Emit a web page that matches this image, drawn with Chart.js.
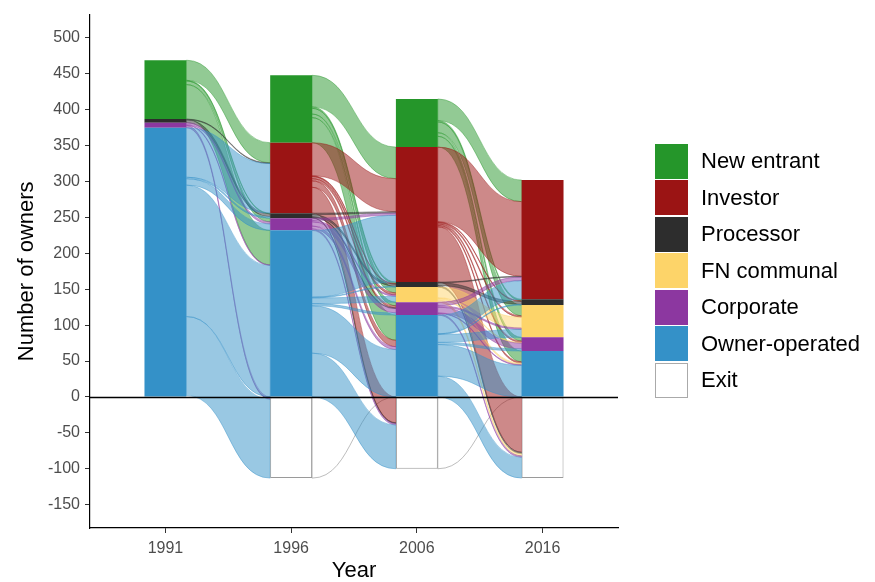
<!DOCTYPE html>
<html><head><meta charset="utf-8">
<script src="https://cdn.jsdelivr.net/npm/chart.js@4.4.1/dist/chart.umd.min.js"></script>
<style>
html,body{margin:0;padding:0;background:#fff;}
#wrap{position:relative;width:875px;height:582px;}
#legend{position:absolute;left:655px;top:143px;font-family:"Liberation Sans",Arial,sans-serif;font-size:22px;color:#000;}
.row{display:flex;align-items:center;height:36.5px;}
.key{width:33px;height:35px;box-sizing:border-box;margin-right:13px;}
</style></head><body>
<div id="wrap"><canvas id="c" width="875" height="582"></canvas><div id="legend"></div></div>
<script>
// ---------- data ----------
const years = ['1991', '1996', '2006', '2016'];
const categories = ['New entrant', 'Investor', 'Processor', 'FN communal', 'Corporate', 'Owner-operated', 'Exit'];
const newEntrant    = [82, 94, 67, 0];
const investor      = [0, 98, 188, 166];
const processor     = [5, 7, 7, 8];
const fnCommunal    = [0, 0, 21, 45];
const corporate     = [7, 17, 18, 19];
const ownerOperated = [375, 232, 114, 64];
const exitOwners    = [0, -113, -100, -113];
const yTicks = [-150, -100, -50, 0, 50, 100, 150, 200, 250, 300, 350, 400, 450, 500];

// flows: [from stratum, to stratum (null = none), owners]
const flows1991to1996 = [
  ['New entrant', 'Investor', 28], ['New entrant', 'Processor', 1], ['New entrant', 'Corporate', 5], ['New entrant', 'Owner-operated', 48],
  ['Processor', 'Investor', 1], ['Processor', 'Processor', 4],
  ['Corporate', 'Corporate', 3], ['Corporate', 'Owner-operated', 1], ['Corporate', 'Exit', 3],
  ['Owner-operated', 'Investor', 69], ['Owner-operated', 'Processor', 2], ['Owner-operated', 'Corporate', 9],
  ['Owner-operated', 'Owner-operated', 183], ['Owner-operated', 'Exit', 110]
];
const flows1996to2006 = [
  ['New entrant', 'Investor', 44], ['New entrant', 'Processor', 2], ['New entrant', 'FN communal', 8], ['New entrant', 'Corporate', 5], ['New entrant', 'Owner-operated', 35],
  ['Investor', 'Investor', 46], ['Investor', 'Processor', 1], ['Investor', 'FN communal', 3], ['Investor', 'Corporate', 3], ['Investor', 'Owner-operated', 9], ['Investor', 'Exit', 36],
  ['Processor', 'Investor', 2], ['Processor', 'Processor', 3], ['Processor', 'Corporate', 1], ['Processor', 'Exit', 1],
  ['Corporate', 'Investor', 3], ['Corporate', 'FN communal', 2], ['Corporate', 'Corporate', 6], ['Corporate', 'Owner-operated', 4], ['Corporate', 'Exit', 2],
  ['Owner-operated', 'Investor', 93], ['Owner-operated', 'Processor', 1], ['Owner-operated', 'FN communal', 8], ['Owner-operated', 'Corporate', 3],
  ['Owner-operated', 'Owner-operated', 66], ['Owner-operated', 'Exit', 61],
  ['Exit', null, 113]
];
const flows2006to2016 = [
  ['New entrant', 'Investor', 30], ['New entrant', 'Processor', 2], ['New entrant', 'FN communal', 15], ['New entrant', 'Corporate', 5], ['New entrant', 'Owner-operated', 15],
  ['Investor', 'Investor', 104], ['Investor', 'Processor', 1], ['Investor', 'FN communal', 2], ['Investor', 'Corporate', 2], ['Investor', 'Owner-operated', 2], ['Investor', 'Exit', 77],
  ['Processor', 'Investor', 1], ['Processor', 'Processor', 4], ['Processor', 'Exit', 2],
  ['FN communal', 'FN communal', 15], ['FN communal', 'Corporate', 1], ['FN communal', 'Owner-operated', 2], ['FN communal', 'Exit', 3],
  ['Corporate', 'Investor', 5], ['Corporate', 'FN communal', 2], ['Corporate', 'Corporate', 8], ['Corporate', 'Owner-operated', 1], ['Corporate', 'Exit', 2],
  ['Owner-operated', 'Investor', 26], ['Owner-operated', 'Processor', 1], ['Owner-operated', 'FN communal', 11], ['Owner-operated', 'Corporate', 3],
  ['Owner-operated', 'Owner-operated', 44], ['Owner-operated', 'Exit', 29],
  ['Exit', null, 100]
];

// ---------- styling ----------
const colors = {
  'New entrant': [37, 150, 42], 'Investor': [155, 20, 20], 'Processor': [45, 45, 45],
  'FN communal': [253, 212, 105], 'Corporate': [140, 55, 160], 'Owner-operated': [52, 145, 200], 'Exit': [255, 255, 255]
};
const rgb = (c, a) => `rgba(${c[0]},${c[1]},${c[2]},${a})`;
const strata = {
  'New entrant': newEntrant, 'Investor': investor, 'Processor': processor, 'FN communal': fnCommunal,
  'Corporate': corporate, 'Owner-operated': ownerOperated, 'Exit': exitOwners
};
const periods = [flows1991to1996, flows1996to2006, flows2006to2016];

// top (value units) of every stratum at a given year index
function strataTops(j) {
  const tops = {};
  let acc = 0;
  for (let k = categories.length - 2; k >= 0; k--) { acc += strata[categories[k]][j]; tops[categories[k]] = acc; }
  tops['Exit'] = 0;
  return tops;
}
const ord = c => c === null ? categories.length : categories.indexOf(c);

const alluvium = {
  id: 'alluvium',
  beforeDatasetsDraw(chart) {
    const ctx = chart.ctx, xs = chart.scales.x, ys = chart.scales.y, a = chart.chartArea;
    const hw = chart.getDatasetMeta(0).data[0].width / 2;
    ctx.save();
    ctx.beginPath(); ctx.rect(a.left, a.top, a.right - a.left, a.bottom - a.top); ctx.clip();
    periods.forEach((fl, p) => {
      const st = strataTops(p), dt = strataTops(p + 1);
      const sc = {}, dc = {};
      const srcSorted = fl.slice().sort((u, v) => ord(u[0]) - ord(v[0]) || ord(u[1]) - ord(v[1]));
      const dstSorted = fl.slice().sort((u, v) => ord(u[1]) - ord(v[1]) || ord(u[0]) - ord(v[0]));
      const pos = new Map();
      srcSorted.forEach(f => {
        const off = sc[f[0]] || 0; sc[f[0]] = off + f[2];
        const top = st[f[0]] - off;
        pos.set(f, { s0: top, s1: top - f[2] });
      });
      dstSorted.forEach(f => {
        const q = pos.get(f);
        if (f[1] === null) { q.d0 = 0; q.d1 = 0; return; }
        const off = dc[f[1]] || 0; dc[f[1]] = off + f[2];
        const top = dt[f[1]] - off;
        q.d0 = top; q.d1 = top - f[2];
      });
      const x0 = xs.getPixelForValue(p + 1) + hw, x1 = xs.getPixelForValue(p + 2) - hw, xm = (x0 + x1) / 2;
      // exit ribbons first so they stay underneath
      const drawOrder = srcSorted.filter(f => f[0] === 'Exit').concat(srcSorted.filter(f => f[0] !== 'Exit'));
      drawOrder.forEach(f => {
        const q = pos.get(f);
        const a0 = ys.getPixelForValue(q.s0), a1 = ys.getPixelForValue(q.s1);
        const b0 = ys.getPixelForValue(q.d0), b1 = ys.getPixelForValue(q.d1);
        ctx.beginPath();
        ctx.moveTo(x0, a0);
        ctx.bezierCurveTo(xm, a0, xm, b0, x1, b0);
        ctx.lineTo(x1, b1);
        ctx.bezierCurveTo(xm, b1, xm, a1, x0, a1);
        ctx.closePath();
        const c = colors[f[0]];
        ctx.fillStyle = rgb(c, 0.5);
        ctx.fill();
        ctx.lineWidth = 0.7;
        ctx.strokeStyle = f[0] === 'Exit' ? 'rgba(150,150,150,0.9)' : rgb(c, 0.6);
        ctx.stroke();
      });
    });
    ctx.restore();
  },
  afterDatasetsDraw(chart) {
    const ctx = chart.ctx, ys = chart.scales.y, a = chart.chartArea;
    const y = Math.round(ys.getPixelForValue(0)) + 0.5;
    ctx.save();
    ctx.strokeStyle = '#000'; ctx.lineWidth = 1.4;
    ctx.beginPath(); ctx.moveTo(a.left, y); ctx.lineTo(a.right, y); ctx.stroke();
    ctx.restore();
  }
};

const stackOrder = ['Owner-operated', 'Corporate', 'FN communal', 'Processor', 'Investor', 'New entrant', 'Exit'];
const datasets = stackOrder.map(cat => ({
  label: cat,
  data: strata[cat].map((v, i) => ({ x: i + 1, y: v })),
  backgroundColor: rgb(colors[cat], 1),
  borderColor: cat === 'Exit' ? '#9a9a9a' : rgb(colors[cat], 1),
  borderWidth: cat === 'Exit' ? 1 : 0,
  borderSkipped: false,
  barPercentage: 1 / 3,
  categoryPercentage: 1
}));

Chart.defaults.font.family = '"Liberation Sans", Arial, sans-serif';
new Chart(document.getElementById('c'), {
  type: 'bar',
  data: { datasets },
  plugins: [alluvium],
  options: {
    responsive: false, animation: false, events: [],
    layout: { padding: { left: 0, right: 257, top: 12, bottom: 0 } },
    plugins: { legend: { display: false }, tooltip: { enabled: false } },
    scales: {
      x: {
        type: 'linear', min: 0.4, max: 4.6, stacked: true, offset: false,
        afterBuildTicks: s => { s.ticks = years.map((_, i) => ({ value: i + 1 })); },
        afterFit: s => { s.height = 54; },
        ticks: { callback: v => years[Math.round(v) - 1], color: '#4d4d4d', font: { size: 16 }, padding: 6, maxRotation: 0 },
        grid: { display: true, drawOnChartArea: false, drawTicks: true, tickLength: 5, color: '#333', offset: false },
        border: { display: true, color: '#000', width: 1.2 },
        title: { display: true, text: 'Year', color: '#000', font: { size: 22 }, padding: { top: 0, bottom: -2 } }
      },
      y: {
        type: 'linear', min: -182.5, max: 532.5, stacked: true,
        afterBuildTicks: s => { s.ticks = yTicks.map(v => ({ value: v })); },
        afterFit: s => { s.width = 90; },
        ticks: { color: '#4d4d4d', font: { size: 16 }, padding: 5 },
        grid: { display: true, drawOnChartArea: false, drawTicks: true, tickLength: 5, color: '#333' },
        border: { display: true, color: '#000', width: 1.2 },
        title: { display: true, text: 'Number of owners', color: '#000', font: { size: 22 }, padding: { top: 14, bottom: 0 } }
      }
    }
  }
});

// legend
const lg = document.getElementById('legend');
categories.forEach(cat => {
  const row = document.createElement('div'); row.className = 'row';
  const key = document.createElement('div'); key.className = 'key';
  key.style.background = rgb(colors[cat], 1);
  if (cat === 'Exit') key.style.border = '1px solid #aaa';
  const t = document.createElement('span'); t.textContent = cat;
  row.appendChild(key); row.appendChild(t); lg.appendChild(row);
});
</script>
</body></html>
